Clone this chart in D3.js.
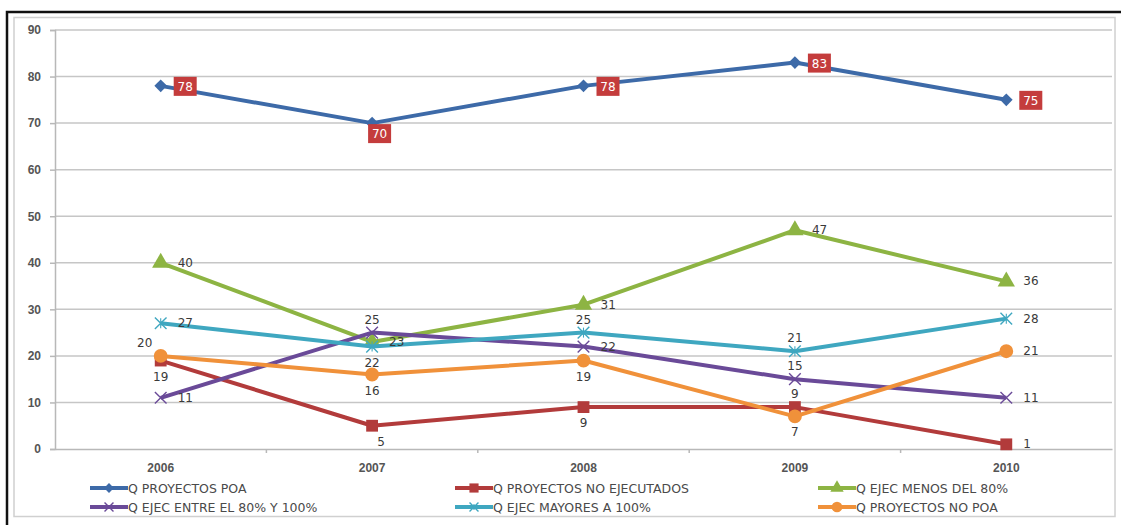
<!DOCTYPE html>
<html>
<head>
<meta charset="utf-8">
<script src="https://cdn.jsdelivr.net/npm/d3@7"></script>
<style>
  html, body { margin: 0; padding: 0; background: #fff; }
  svg { display: block; font-family: "DejaVu Sans", Verdana, sans-serif; }
</style>
</head>
<body>
<svg id="chart" width="1121" height="525"></svg>
<script>
// Years on the category axis
const years = ["2006", "2007", "2008", "2009", "2010"];
const yTicks = [0, 10, 20, 30, 40, 50, 60, 70, 80, 90];

// Series values per year
const proyectosPoa      = [78, 70, 78, 83, 75];
const noEjecutados      = [19, 5, 9, 9, 1];
const ejecMenos80       = [40, 23, 31, 47, 36];
const ejecEntre80y100   = [11, 25, 22, 15, 11];
const ejecMayores100    = [27, 22, 25, 21, 28];
const proyectosNoPoa    = [20, 16, 19, 7, 21];

const seriesNames = [
  "Q PROYECTOS  POA",
  "Q PROYECTOS  NO EJECUTADOS",
  "Q EJEC  MENOS  DEL 80%",
  "Q EJEC  ENTRE  EL 80% Y 100%",
  "Q EJEC  MAYORES  A 100%",
  "Q PROYECTOS  NO POA"
];

// Presentation: colour, marker and where each value label sits
const styles = [
  { color: "#3d6aa8", marker: "diamond",  place: ["rbox", "bbox", "rbox", "rbox", "rbox"] },
  { color: "#b23b3b", marker: "square",   place: ["b", "br", "b", "a", "r"] },
  { color: "#8db443", marker: "triangle", place: ["r", "r", "r", "r", "r"] },
  { color: "#6a4a98", marker: "x",        place: ["r", "a", "r", "a", "r"] },
  { color: "#3fa7c0", marker: "star",     place: ["r", "b", "a", "a", "r"] },
  { color: "#f0913a", marker: "circle",   place: ["al", "b", "b", "b", "r"] }
];

const allSeries = [proyectosPoa, noEjecutados, ejecMenos80, ejecEntre80y100, ejecMayores100, proyectosNoPoa];

const svg = d3.select("#chart");

// Frames
svg.append("rect").attr("x", 7).attr("y", 12).attr("width", 1130).attr("height", 530)
  .attr("fill", "#fff").attr("stroke", "#111").attr("stroke-width", 2.5);
svg.append("rect").attr("x", 14).attr("y", 17.5).attr("width", 1101).attr("height", 499)
  .attr("fill", "#fff").attr("stroke", "#d0d0d0").attr("stroke-width", 1.5);

const plotL = 55, plotR = 1112, plotT = 30, plotB = 449;
const x = d3.scalePoint().domain(years).range([plotL, plotR]).padding(0.5);
const xBand = d3.scaleBand().domain(years).range([plotL, plotR]);
const y = d3.scaleLinear().domain([0, 90]).range([plotB, plotT]);

// Gridlines
svg.append("g").selectAll("line").data(yTicks.filter(d => d > 0)).join("line")
  .attr("x1", plotL).attr("x2", plotR)
  .attr("y1", d => y(d)).attr("y2", d => y(d))
  .attr("stroke", "#c6c6c6").attr("stroke-width", 1.5);

// Y axis
const yAxis = svg.append("g").attr("transform", `translate(${plotL},0)`)
  .call(d3.axisLeft(y).tickValues(yTicks).tickSize(5).tickPadding(9));
yAxis.select(".domain").attr("stroke", "#b8b8b8").attr("stroke-width", 1.5);
yAxis.selectAll(".tick line").attr("stroke", "#b8b8b8").attr("stroke-width", 1.5);
yAxis.selectAll("text").attr("fill", "#555").attr("font-size", 12).attr("font-weight", "bold");

// X axis (ticks between categories)
const xAxis = svg.append("g").attr("transform", `translate(0,${plotB})`)
  .call(d3.axisBottom(xBand).tickSize(0).tickPadding(14));
xAxis.select(".domain").attr("stroke", "#b8b8b8").attr("stroke-width", 1.5);
xAxis.selectAll("text").attr("fill", "#555").attr("font-size", 12).attr("font-weight", "bold");
svg.append("g").selectAll("line").data(years.slice(1)).join("line")
  .attr("x1", d => xBand(d)).attr("x2", d => xBand(d))
  .attr("y1", plotB).attr("y2", plotB + 4)
  .attr("stroke", "#b8b8b8").attr("stroke-width", 1.5);

function markerPath(type, size) {
  const sym = {
    diamond: d3.symbolSquare, square: d3.symbolSquare, triangle: d3.symbolTriangle,
    circle: d3.symbolCircle, x: d3.symbolTimes, star: d3.symbolTimes
  }[type];
  return d3.symbol(sym, size)();
}
const markerSize = { diamond: 80, square: 140, triangle: 130, circle: 150, x: 90, star: 90 };

function drawMarker(g, type, color, cx, cy, scale = 1) {
  const m = g.append("path")
    .attr("d", markerPath(type, markerSize[type] * scale))
    .attr("transform", `translate(${cx},${cy})` + (type === "diamond" ? " rotate(45)" : ""));
  if (type === "x" || type === "star") {
    m.attr("fill", "none").attr("stroke", color).attr("stroke-width", 1.4);
    if (type === "star") {
      g.append("line").attr("x1", cx).attr("x2", cx).attr("y1", cy - 5 * scale).attr("y2", cy + 5 * scale)
        .attr("stroke", color).attr("stroke-width", 1.1);
    }
  } else {
    m.attr("fill", color);
  }
}

const line = d3.line().x((d, i) => x(years[i])).y(d => y(d));

// Draw series lines and markers
allSeries.forEach((vals, si) => {
  const st = styles[si];
  const g = svg.append("g");
  g.append("path").datum(vals).attr("d", line)
    .attr("fill", "none").attr("stroke", st.color).attr("stroke-width", 4)
    .attr("stroke-linejoin", "round");
  vals.forEach((v, i) => drawMarker(g, st.marker, st.color, x(years[i]), y(v)));
});

// Value labels
allSeries.forEach((vals, si) => {
  const st = styles[si];
  const g = svg.append("g");
  vals.forEach((v, i) => {
    const px = x(years[i]), py = y(v);
    const p = st.place[i];
    if (p === "rbox" || p === "bbox") {
      const bx = p === "rbox" ? px + 13 : px - 4;
      const by = p === "rbox" ? py - 9 : py + 1;
      g.append("rect").attr("x", bx).attr("y", by).attr("width", 23).attr("height", 19)
        .attr("fill", "#c43c3c");
      g.append("text").attr("x", bx + 11.5).attr("y", by + 14).attr("text-anchor", "middle")
        .attr("fill", "#fff").attr("font-size", 12).text(v);
      return;
    }
    let tx = px, ty = py, anchor = "middle";
    if (p === "r") { tx = px + 17; ty = py + 4; anchor = "start"; }
    else if (p === "a") { ty = py - 9; }
    else if (p === "b") { ty = py + 20; }
    else if (p === "br") { tx = px + 9; ty = py + 20; }
    else if (p === "al") { tx = px - 16; ty = py - 9; }
    g.append("text").attr("x", tx).attr("y", ty).attr("text-anchor", anchor)
      .attr("fill", "#3a3a3a").attr("font-size", 12).text(v);
  });
});

// Legend
const legendCols = [90, 455, 818];
const legendRows = [488, 507];
seriesNames.forEach((name, si) => {
  const st = styles[si];
  const lx = legendCols[si % 3], ly = legendRows[Math.floor(si / 3)];
  const g = svg.append("g");
  g.append("line").attr("x1", lx).attr("x2", lx + 38).attr("y1", ly).attr("y2", ly)
    .attr("stroke", st.color).attr("stroke-width", 4);
  drawMarker(g, st.marker, st.color, lx + 19, ly, 0.6);
  g.append("text").attr("x", lx + 38).attr("y", ly + 4.5)
    .attr("fill", "#4a4a4a").attr("font-size", 12.5).text(name);
});
</script>
</body>
</html>
